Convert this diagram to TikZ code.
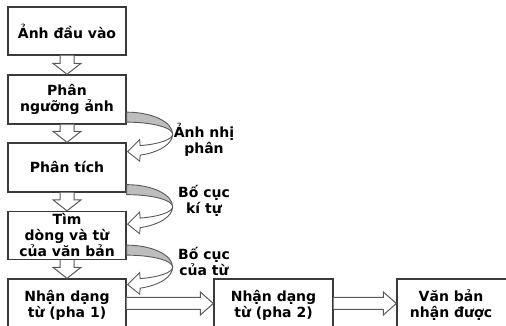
\documentclass[tikz,border=0pt]{standalone}
\usepackage{fontspec}
\setmainfont{DejaVu Sans}
\usetikzlibrary{calc}
\definecolor{boxc}{HTML}{3A3A3A}
\definecolor{arrc}{HTML}{5A5A5A}
\definecolor{ribc}{HTML}{BDBDBD}
\tikzset{
  txt/.style={align=center, font=\fontsize{14}{16}\selectfont\bfseries, text=black},
  box/.style={txt, draw=boxc, line width=1.3pt, fill=white, minimum width=118pt, minimum height=49pt, inner sep=0pt},
  hollow/.style={draw=arrc, line width=1pt, fill=white, line join=miter},
  ribbongray/.style={draw=arrc, line width=0.9pt, fill=ribc, line join=round},
  ribbonwhite/.style={draw=arrc, line width=0.9pt, fill=white, line join=miter},
}
\newcommand\hdown[2]{\draw[hollow] let \p1=(#1.south), \p2=(#2.north) in
  (\x1-7,\y1) -- (\x1-7,\y2+11) -- (\x1-14,\y2+11) -- (\x1,\y2) -- (\x1+14,\y2+11) -- (\x1+7,\y2+11) -- (\x1+7,\y1);}
\newcommand\hright[3]{\draw[hollow] let \p1=(#1.east), \p2=(#2.west) in
  (\x1,#3+6) -- (\x2-13,#3+6) -- (\x2-13,#3+11.5) -- (\x2,#3) -- (\x2-13,#3-11.5) -- (\x2-13,#3-6) -- (\x1,#3-6);}
\newcommand\cband[2]{\begin{scope}[shift={($(#1.south east)+(0,-#2)$)}]
  \draw[ribbongray] (0,22) arc[start angle=90,end angle=0,x radius=46,y radius=22]
    arc[start angle=0,end angle=90,x radius=46,y radius=12] -- cycle;
  \draw[ribbonwhite] (46,0) arc[start angle=0,end angle=-72.9,x radius=46,y radius=22]
    -- (13,-27) -- (1,-17.5) -- (13,-5.5) -- (13.5,-11.47)
    arc[start angle=-72.9,end angle=0,x radius=46,y radius=12] -- cycle;
\end{scope}}
\begin{document}
\begin{tikzpicture}[x=1pt,y=1pt]
\useasboundingbox (0,0) rectangle (506,326);
\clip (0,0) rectangle (506,326);
\fill[white] (0,0) rectangle (506,326);
\node[box, minimum height=48pt] (b1) at (67,295) {Ảnh đầu vào};
\node[box] (b2) at (67,226.5) {Phân\\ngưỡng ảnh};
\node[box] (b3) at (67,158.5) {Phân tích};
\node[box, minimum height=48pt] (b4) at (67,90.5) {Tìm\\dòng và từ\\của văn bản};
\node[box, minimum height=52pt] (b5) at (67,21) {Nhận dạng\\từ (pha 1)};
\node[box, minimum width=119pt, minimum height=52pt] (b6) at (273.5,21) {Nhận dạng\\từ (pha 2)};
\node[box, minimum width=124pt, minimum height=52pt] (b7) at (459,21) {};
\node[txt] (t7) at (451,21) {Văn bản\\nhận được};
\hdown{b1}{b2}
\hdown{b2}{b3}
\hdown{b3}{b4}
\hdown{b4}{b5}
\hright{b5}{b6}{22.5}
\hright{b6}{b7}{22.5}
\cband{b2}{9.5}
\cband{b3}{14}
\cband{b4}{7}
\node[txt] (l1) at (204,186.5) {Ảnh nhị\\phân};
\node[txt] (l2) at (204,125.5) {Bố cục\\kí tự};
\node[txt] (l3) at (204,65) {Bố cục\\của từ};
\end{tikzpicture}
\end{document}
